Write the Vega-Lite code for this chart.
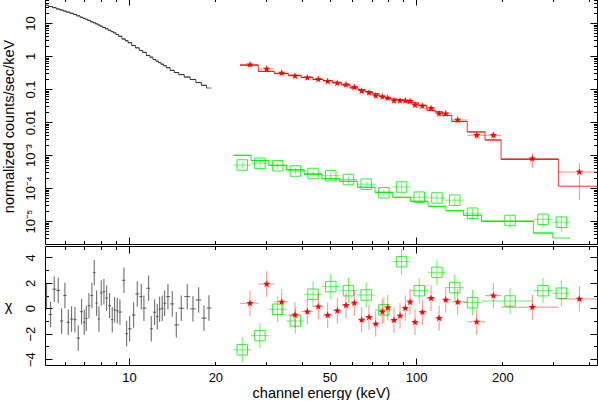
{
"$schema":"https://vega.github.io/schema/vega-lite/v6.json",
"padding":{"left":0,"top":-3,"right":1,"bottom":0},
"spacing":0,
"config":{"view":{"stroke":"#000000","strokeWidth":1},"font":"Liberation Sans",
"axis":{"grid":false,"domain":false,"tickColor":"#000000","tickWidth":1,"labelColor":"#000000","titleColor":"#000000","labelFont":"Liberation Sans","titleFont":"Liberation Sans","labelFontSize":13,"titleFontSize":14.5,"titleFontWeight":"normal","labelOverlap":false,"labelFlush":false}},
"datasets":{
"black":[
{"e":5.167,"lo":5.097,"hi":5.25,"m":34.5,"c":0.9,"cl":-0.1,"ch":1.9},
{"e":5.335,"lo":5.25,"hi":5.413,"m":31.6,"c":-0.5,"cl":-1.5,"ch":0.5},
{"e":5.492,"lo":5.413,"hi":5.581,"m":29.1,"c":1.5,"cl":0.5,"ch":2.5},
{"e":5.671,"lo":5.581,"hi":5.749,"m":26.6,"c":1.4,"cl":0.4,"ch":2.4},
{"e":5.828,"lo":5.749,"hi":5.905,"m":24.7,"c":-1.0,"cl":-2.0,"ch":0.0},
{"e":5.984,"lo":5.905,"hi":6.064,"m":22.9,"c":1.0,"cl":0.0,"ch":2.0},
{"e":6.145,"lo":6.064,"hi":6.229,"m":21.3,"c":-1.1,"cl":-2.1,"ch":-0.1},
{"e":6.314,"lo":6.229,"hi":6.399,"m":19.7,"c":-0.85,"cl":-1.85,"ch":0.15},
{"e":6.484,"lo":6.399,"hi":6.571,"m":18.2,"c":-0.9,"cl":-1.9,"ch":0.1},
{"e":6.658,"lo":6.571,"hi":6.75,"m":16.5,"c":-2.35,"cl":-3.35,"ch":-1.35},
{"e":6.842,"lo":6.75,"hi":6.914,"m":14.9,"c":-0.27,"cl":-1.27,"ch":0.73},
{"e":6.986,"lo":6.914,"hi":7.043,"m":13.8,"c":-1.1,"cl":-2.1,"ch":-0.1},
{"e":7.099,"lo":7.043,"hi":7.176,"m":13.0,"c":-0.8,"cl":-1.8,"ch":0.2},
{"e":7.255,"lo":7.176,"hi":7.342,"m":12.0,"c":0.2,"cl":-0.8,"ch":1.2},
{"e":7.431,"lo":7.342,"hi":7.501,"m":10.9,"c":1.0,"cl":0.0,"ch":2.0},
{"e":7.57,"lo":7.501,"hi":7.643,"m":10.2,"c":2.8,"cl":1.8,"ch":3.8},
{"e":7.717,"lo":7.643,"hi":7.789,"m":9.42,"c":0.4,"cl":-0.6,"ch":1.4},
{"e":7.861,"lo":7.789,"hi":7.934,"m":8.69,"c":-0.85,"cl":-1.85,"ch":0.15},
{"e":8.007,"lo":7.934,"hi":8.094,"m":8.03,"c":1.2,"cl":0.2,"ch":2.2},
{"e":8.182,"lo":8.094,"hi":8.272,"m":7.31,"c":1.3,"cl":0.3,"ch":2.3},
{"e":8.362,"lo":8.272,"hi":8.463,"m":6.65,"c":0.8,"cl":-0.2,"ch":1.8},
{"e":8.565,"lo":8.463,"hi":8.656,"m":5.99,"c":0.2,"cl":-0.8,"ch":1.2},
{"e":8.746,"lo":8.656,"hi":8.831,"m":5.47,"c":-0.9,"cl":-1.9,"ch":0.1},
{"e":8.916,"lo":8.831,"hi":9.01,"m":5.03,"c":-0.13,"cl":-1.13,"ch":0.87},
{"e":9.104,"lo":9.01,"hi":9.203,"m":4.47,"c":-0.2,"cl":-1.2,"ch":0.8},
{"e":9.303,"lo":9.203,"hi":9.454,"m":3.95,"c":-0.3,"cl":-1.3,"ch":0.7},
{"e":9.607,"lo":9.454,"hi":9.711,"m":3.28,"c":2.2,"cl":1.2,"ch":3.2},
{"e":9.817,"lo":9.711,"hi":9.936,"m":2.89,"c":-2.0,"cl":-3.0,"ch":-1.0},
{"e":10.056,"lo":9.936,"hi":10.219,"m":2.52,"c":-1.62,"cl":-2.62,"ch":-0.62},
{"e":10.384,"lo":10.219,"hi":10.535,"m":2.09,"c":-0.53,"cl":-1.53,"ch":0.47},
{"e":10.688,"lo":10.535,"hi":10.862,"m":1.77,"c":1.12,"cl":0.12,"ch":2.12},
{"e":11.037,"lo":10.862,"hi":11.157,"m":1.47,"c":0.91,"cl":-0.09,"ch":1.91},
{"e":11.278,"lo":11.157,"hi":11.493,"m":1.29,"c":0,"cl":-1,"ch":1},
{"e":11.713,"lo":11.493,"hi":11.836,"m":1.04,"c":1.57,"cl":0.57,"ch":2.57},
{"e":11.959,"lo":11.836,"hi":12.124,"m":0.918,"c":-1.62,"cl":-2.62,"ch":-0.62},
{"e":12.29,"lo":12.124,"hi":12.419,"m":0.783,"c":-0.31,"cl":-1.31,"ch":0.69},
{"e":12.548,"lo":12.419,"hi":12.67,"m":0.7,"c":-0.66,"cl":-1.66,"ch":0.34},
{"e":12.793,"lo":12.67,"hi":12.927,"m":0.631,"c":-0.08,"cl":-1.08,"ch":0.92},
{"e":13.063,"lo":12.927,"hi":13.189,"m":0.565,"c":0.0,"cl":-1,"ch":1},
{"e":13.317,"lo":13.189,"hi":13.494,"m":0.509,"c":0.39,"cl":-0.61,"ch":1.39},
{"e":13.673,"lo":13.494,"hi":13.912,"m":0.442,"c":0.91,"cl":-0.09,"ch":1.91},
{"e":14.154,"lo":13.912,"hi":14.382,"m":0.367,"c":0.34,"cl":-0.66,"ch":1.34},
{"e":14.616,"lo":14.382,"hi":14.911,"m":0.315,"c":-1.31,"cl":-2.31,"ch":-0.31},
{"e":15.213,"lo":14.911,"hi":15.584,"m":0.273,"c":0,"cl":-1,"ch":1},
{"e":15.964,"lo":15.584,"hi":16.333,"m":0.23,"c":0.91,"cl":-0.09,"ch":1.91},
{"e":16.711,"lo":16.333,"hi":17.097,"m":0.194,"c":-0.05,"cl":-1.05,"ch":0.95},
{"e":17.493,"lo":17.097,"hi":17.869,"m":0.157,"c":0.65,"cl":-0.35,"ch":1.65},
{"e":18.252,"lo":17.869,"hi":18.623,"m":0.129,"c":-0.78,"cl":-1.78,"ch":0.22},
{"e":19.0,"lo":18.623,"hi":19.386,"m":0.107,"c":0.02,"cl":-0.98,"ch":1.02}
],
"red":[
{"e":26.4,"lo":24.37,"hi":28.22,"f":0.545,"flo":0.5014,"fhi":0.5886,"m":0.528,"c":0.39,"cl":-0.61,"ch":1.39},
{"e":30.19,"lo":28.22,"hi":32.06,"f":0.4037,"flo":0.3714,"fhi":0.436,"m":0.3423,"c":1.9,"cl":0.9,"ch":2.9},
{"e":34.05,"lo":32.06,"hi":35.9,"f":0.3054,"flo":0.281,"fhi":0.3298,"m":0.2932,"c":0.5,"cl":-0.5,"ch":1.5},
{"e":37.88,"lo":35.9,"hi":39.78,"f":0.2477,"flo":0.2254,"fhi":0.27,"m":0.2595,"c":-0.53,"cl":-1.53,"ch":0.47},
{"e":41.81,"lo":39.78,"hi":43.69,"f":0.22,"flo":0.2002,"fhi":0.2398,"m":0.2253,"c":-0.27,"cl":-1.27,"ch":0.73},
{"e":45.66,"lo":43.69,"hi":47.42,"f":0.1967,"flo":0.179,"fhi":0.2144,"m":0.1944,"c":0.13,"cl":-0.87,"ch":1.13},
{"e":49.24,"lo":47.42,"hi":51.18,"f":0.1711,"flo":0.154,"fhi":0.1882,"m":0.1805,"c":-0.55,"cl":-1.55,"ch":0.45},
{"e":53.18,"lo":51.18,"hi":55.05,"f":0.1519,"flo":0.1367,"fhi":0.1671,"m":0.1549,"c":-0.2,"cl":-1.2,"ch":0.8},
{"e":57.03,"lo":55.05,"hi":58.94,"f":0.135,"flo":0.1215,"fhi":0.1485,"m":0.1319,"c":0.23,"cl":-0.77,"ch":1.23},
{"e":60.96,"lo":58.94,"hi":62.79,"f":0.1126,"flo":0.1002,"fhi":0.125,"m":0.1075,"c":0.41,"cl":-0.59,"ch":1.41},
{"e":64.68,"lo":62.79,"hi":66.58,"f":0.087,"flo":0.0774,"fhi":0.0966,"m":0.0958,"c":-0.92,"cl":-1.92,"ch":0.08},
{"e":68.59,"lo":66.58,"hi":70.43,"f":0.0772,"flo":0.0679,"fhi":0.0865,"m":0.0838,"c":-0.71,"cl":-1.71,"ch":0.29},
{"e":72.38,"lo":70.43,"hi":74.32,"f":0.0627,"flo":0.0552,"fhi":0.0702,"m":0.072,"c":-1.23,"cl":-2.23,"ch":-0.23},
{"e":76.31,"lo":74.32,"hi":77.98,"f":0.0584,"flo":0.0514,"fhi":0.0654,"m":0.0603,"c":-0.27,"cl":-1.27,"ch":0.73},
{"e":79.69,"lo":77.98,"hi":81.7,"f":0.0534,"flo":0.0465,"fhi":0.0603,"m":0.0531,"c":0.05,"cl":-0.95,"ch":1.05},
{"e":83.82,"lo":81.7,"hi":85.86,"f":0.0442,"flo":0.0385,"fhi":0.0499,"m":0.0496,"c":-0.94,"cl":-1.94,"ch":0.06},
{"e":87.95,"lo":85.86,"hi":89.81,"f":0.0442,"flo":0.0385,"fhi":0.0499,"m":0.0476,"c":-0.6,"cl":-1.6,"ch":0.4},
{"e":91.77,"lo":89.81,"hi":93.48,"f":0.0442,"flo":0.038,"fhi":0.0504,"m":0.0442,"c":0,"cl":-1,"ch":1},
{"e":95.3,"lo":93.48,"hi":97.23,"f":0.0424,"flo":0.0365,"fhi":0.0483,"m":0.0395,"c":0.49,"cl":-0.51,"ch":1.49},
{"e":99.2,"lo":97.23,"hi":102.1,"f":0.0327,"flo":0.0278,"fhi":0.0376,"m":0.0381,"c":-1.1,"cl":-2.1,"ch":-0.1},
{"e":105.2,"lo":102.1,"hi":108.9,"f":0.0305,"flo":0.0259,"fhi":0.0351,"m":0.0319,"c":-0.31,"cl":-1.31,"ch":0.69},
{"e":112.8,"lo":108.9,"hi":116.5,"f":0.026,"flo":0.0218,"fhi":0.0302,"m":0.02276,"c":0.78,"cl":-0.22,"ch":1.78},
{"e":120.3,"lo":116.5,"hi":123.5,"f":0.01785,"flo":0.01464,"fhi":0.02106,"m":0.02036,"c":-0.78,"cl":-1.78,"ch":0.22},
{"e":126.9,"lo":123.5,"hi":133.2,"f":0.01785,"flo":0.01464,"fhi":0.02106,"m":0.01576,"c":0.65,"cl":-0.35,"ch":1.65},
{"e":139.7,"lo":133.2,"hi":150.8,"f":0.0115,"flo":0.0092,"fhi":0.0138,"m":0.01037,"c":0.49,"cl":-0.51,"ch":1.49},
{"e":162.7,"lo":150.8,"hi":173.9,"f":0.00395,"flo":0.00296,"fhi":0.00494,"m":0.00501,"c":-1.07,"cl":-2.07,"ch":-0.07},
{"e":185.9,"lo":173.9,"hi":197.8,"f":0.00395,"flo":0.00284,"fhi":0.00506,"m":0.002855,"c":0.99,"cl":-0.01,"ch":1.99},
{"e":254.2,"lo":197.8,"hi":313.2,"f":0.000772,"flo":0.000401,"fhi":0.001143,"m":0.000742,"c":0.08,"cl":-0.92,"ch":1.08},
{"e":370.7,"lo":313.2,"hi":427.2,"f":0.000305,"flo":0.0000427,"fhi":0.000567,"m":0.0001135,"c":0.73,"cl":-0.27,"ch":1.73}
],
"green":[
{"e":24.81,"lo":23.11,"hi":26.63,"f":4.98e-4,"flo":3.88e-4,"fhi":6.08e-4,"m":9.79e-4,"c":-3.27,"cl":-4.27,"ch":-2.27},
{"e":28.59,"lo":26.63,"hi":30.7,"f":5.64e-4,"flo":4.40e-4,"fhi":6.88e-4,"m":6.81e-4,"c":-2.15,"cl":-3.15,"ch":-1.15},
{"e":32.96,"lo":30.7,"hi":35.38,"f":4.74e-4,"flo":3.70e-4,"fhi":5.78e-4,"m":4.875e-4,"c":-0.08,"cl":-1.08,"ch":0.92},
{"e":37.99,"lo":35.38,"hi":40.78,"f":3.274e-4,"flo":2.554e-4,"fhi":3.994e-4,"m":3.559e-4,"c":-1.0,"cl":-2.0,"ch":0},
{"e":43.78,"lo":40.78,"hi":47.0,"f":2.751e-4,"flo":2.146e-4,"fhi":3.356e-4,"m":2.6e-4,"c":1.1,"cl":0.1,"ch":2.1},
{"e":50.46,"lo":47.0,"hi":54.18,"f":2.359e-4,"flo":1.84e-4,"fhi":2.878e-4,"m":1.913e-4,"c":1.7,"cl":0.7,"ch":2.7},
{"e":58.16,"lo":54.18,"hi":62.44,"f":1.81e-4,"flo":1.412e-4,"fhi":2.208e-4,"m":1.596e-4,"c":1.38,"cl":0.38,"ch":2.38},
{"e":67.04,"lo":62.44,"hi":71.97,"f":1.303e-4,"flo":1.016e-4,"fhi":1.59e-4,"m":1.05e-4,"c":1.04,"cl":0.04,"ch":2.04},
{"e":77.27,"lo":71.97,"hi":82.95,"f":7.15e-5,"flo":5.58e-5,"fhi":8.72e-5,"m":7.41e-5,"c":-0.13,"cl":-1.13,"ch":0.87},
{"e":89.05,"lo":82.95,"hi":95.61,"f":1.072e-4,"flo":7.72e-5,"fhi":1.372e-4,"m":5.23e-5,"c":3.66,"cl":2.66,"ch":4.66},
{"e":102.64,"lo":95.61,"hi":110.2,"f":5.26e-5,"flo":3.79e-5,"fhi":6.73e-5,"m":3.954e-5,"c":1.38,"cl":0.38,"ch":2.38},
{"e":118.3,"lo":110.2,"hi":127.0,"f":4.98e-5,"flo":3.59e-5,"fhi":6.37e-5,"m":2.79e-5,"c":2.82,"cl":1.82,"ch":3.82},
{"e":136.4,"lo":127.0,"hi":146.4,"f":4.27e-5,"flo":3.07e-5,"fhi":5.47e-5,"m":2.051e-5,"c":1.62,"cl":0.62,"ch":2.62},
{"e":157.4,"lo":146.4,"hi":169.1,"f":1.723e-5,"flo":1.12e-5,"fhi":2.326e-5,"m":1.488e-5,"c":0.44,"cl":-0.56,"ch":1.44},
{"e":212.6,"lo":169.1,"hi":256.3,"f":1.036e-5,"flo":6.22e-6,"fhi":1.45e-5,"m":9.66e-6,"c":0.57,"cl":-0.43,"ch":1.57},
{"e":277.0,"lo":256.3,"hi":299.4,"f":1.126e-5,"flo":6.19e-6,"fhi":1.633e-5,"m":4.33e-6,"c":1.38,"cl":0.38,"ch":2.38},
{"e":320.9,"lo":299.4,"hi":344.0,"f":9.19e-6,"flo":4.6e-6,"fhi":1.379e-5,"m":3.054e-6,"c":1.18,"cl":0.18,"ch":2.18}
]
},
"vconcat":[
{
"width":552,"height":246,
"resolve":{"axis":{"x":"independent","y":"independent"}},
"layer":[
{"data":{"name":"black"},"mark":{"type":"rule","color":"#666666","strokeWidth":1,"clip":true},
"encoding":{
"x":{"field":"lo","type":"quantitative","scale":{"type":"log","domain":[5.1,427],"nice":false},
"axis":{"orient":"bottom","values":[10,100],"tickSize":-7,"labels":false,"title":null}},
"x2":{"field":"hi"},
"y":{"field":"m","type":"quantitative","scale":{"type":"log","domain":[2.01e-6,57.2],"nice":false},
"axis":{"orient":"left","values":[1e-5,1e-4,0.001,0.01,0.1,1,10],"tickSize":-7,"labelPadding":17.5,"labelAngle":-90,"labelAlign":"center","labelBaseline":"alphabetic",
"labelExpr":"datum.value > 5 ? '10' : datum.value > 0.5 ? '1' : datum.value > 0.05 ? '0.1' : datum.value > 0.005 ? '0.01' : datum.value > 0.0005 ? '10⁻³' : datum.value > 0.00005 ? '10⁻⁴' : '10⁻⁵'",
"title":"normalized counts/sec/keV","titleX":-31.5,"titleY":128,"titleAngle":270,"titleAlign":"center","titleBaseline":"alphabetic"}}}},
{"data":{"name":"black"},"mark":{"type":"line","interpolate":"step-after","color":"#222222","strokeWidth":0.8,"clip":true},
"encoding":{
"x":{"field":"lo","type":"quantitative","scale":{"type":"log","domain":[5.1,427],"nice":false},
"axis":{"orient":"bottom","values":[6,7,8,9,20,30,40,50,60,70,80,90,200,300,400],"tickSize":-3.5,"labels":false,"title":null}},
"y":{"field":"m","type":"quantitative","scale":{"type":"log","domain":[2.01e-6,57.2],"nice":false},
"axis":{"orient":"left","values":[3e-6,4e-6,5e-6,6e-6,7e-6,8e-6,9e-6,2e-5,3e-5,4e-5,5e-5,6e-5,7e-5,8e-5,9e-5,2e-4,3e-4,4e-4,5e-4,6e-4,7e-4,8e-4,9e-4,0.002,0.003,0.004,0.005,0.006,0.007,0.008,0.009,0.02,0.03,0.04,0.05,0.06,0.07,0.08,0.09,0.2,0.3,0.4,0.5,0.6,0.7,0.8,0.9,2,3,4,5,6,7,8,9,20,30,40,50],"tickSize":-3.5,"labels":false,"title":null}}}},
{"data":{"name":"green"},"mark":{"type":"line","interpolate":"step-after","color":"#00ee00","opacity":0.85,"strokeWidth":1,"clip":true},
"encoding":{
"x":{"field":"lo","type":"quantitative","scale":{"type":"log","domain":[5.1,427],"nice":false},
"axis":{"orient":"top","values":[6,7,8,9,20,30,40,50,60,70,80,90,200,300,400],"tickSize":-3.5,"labels":false,"title":null}},
"y":{"field":"m","type":"quantitative","scale":{"type":"log","domain":[2.01e-6,57.2],"nice":false},
"axis":{"orient":"right","values":[3e-6,4e-6,5e-6,6e-6,7e-6,8e-6,9e-6,2e-5,3e-5,4e-5,5e-5,6e-5,7e-5,8e-5,9e-5,2e-4,3e-4,4e-4,5e-4,6e-4,7e-4,8e-4,9e-4,0.002,0.003,0.004,0.005,0.006,0.007,0.008,0.009,0.02,0.03,0.04,0.05,0.06,0.07,0.08,0.09,0.2,0.3,0.4,0.5,0.6,0.7,0.8,0.9,2,3,4,5,6,7,8,9,20,30,40,50],"tickSize":-3.5,"labels":false,"title":null}}}},
{"data":{"name":"green"},"mark":{"type":"rule","color":"#00ee00","opacity":0.85,"strokeWidth":1,"clip":true},
"encoding":{
"x":{"field":"lo","type":"quantitative","scale":{"type":"log","domain":[5.1,427],"nice":false},
"axis":{"orient":"top","values":[10,100],"tickSize":-7,"labels":false,"title":null}},
"x2":{"field":"hi"},
"y":{"field":"m","type":"quantitative","scale":{"type":"log","domain":[2.01e-6,57.2],"nice":false},
"axis":{"orient":"right","values":[1e-5,1e-4,0.001,0.01,0.1,1,10],"tickSize":-7,"labels":false,"title":null}}}},
{"data":{"name":"green"},"mark":{"type":"rule","color":"#00ee00","opacity":0.55,"strokeWidth":1,"clip":true},
"encoding":{"x":{"field":"lo","type":"quantitative","scale":{"type":"log","domain":[5.1,427],"nice":false},"axis":null},"x2":{"field":"hi"},
"y":{"field":"f","type":"quantitative","scale":{"type":"log","domain":[2.01e-6,57.2],"nice":false},"axis":null}}},
{"data":{"name":"green"},"mark":{"type":"rule","color":"#00ee00","opacity":0.55,"strokeWidth":1,"clip":true},
"encoding":{"x":{"field":"e","type":"quantitative","scale":{"type":"log","domain":[5.1,427],"nice":false},"axis":null},
"y":{"field":"flo","type":"quantitative","scale":{"type":"log","domain":[2.01e-6,57.2],"nice":false},"axis":null},"y2":{"field":"fhi"}}},
{"data":{"name":"green"},"mark":{"type":"point","shape":"square","filled":false,"color":"#00ee00","opacity":0.8,"size":110,"strokeWidth":1},
"encoding":{"x":{"field":"e","type":"quantitative","scale":{"type":"log","domain":[5.1,427],"nice":false},"axis":null},
"y":{"field":"f","type":"quantitative","scale":{"type":"log","domain":[2.01e-6,57.2],"nice":false},"axis":null}}},
{"data":{"name":"red"},"mark":{"type":"line","interpolate":"step-after","color":"#ff0000","opacity":0.8,"strokeWidth":1,"clip":true},
"encoding":{"x":{"field":"lo","type":"quantitative","scale":{"type":"log","domain":[5.1,427],"nice":false},"axis":null},
"y":{"field":"m","type":"quantitative","scale":{"type":"log","domain":[2.01e-6,57.2],"nice":false},"axis":null}}},
{"data":{"name":"red"},"mark":{"type":"rule","color":"#ff0000","opacity":0.8,"strokeWidth":1,"clip":true},
"encoding":{"x":{"field":"lo","type":"quantitative","scale":{"type":"log","domain":[5.1,427],"nice":false},"axis":null},"x2":{"field":"hi"},
"y":{"field":"m","type":"quantitative","scale":{"type":"log","domain":[2.01e-6,57.2],"nice":false},"axis":null}}},
{"data":{"name":"red"},"mark":{"type":"rule","color":"#ff0000","opacity":0.45,"strokeWidth":1,"clip":true},
"encoding":{"x":{"field":"lo","type":"quantitative","scale":{"type":"log","domain":[5.1,427],"nice":false},"axis":null},"x2":{"field":"hi"},
"y":{"field":"f","type":"quantitative","scale":{"type":"log","domain":[2.01e-6,57.2],"nice":false},"axis":null}}},
{"data":{"name":"red"},"mark":{"type":"rule","color":"#ff0000","opacity":0.45,"strokeWidth":1,"clip":true},
"encoding":{"x":{"field":"e","type":"quantitative","scale":{"type":"log","domain":[5.1,427],"nice":false},"axis":null},
"y":{"field":"flo","type":"quantitative","scale":{"type":"log","domain":[2.01e-6,57.2],"nice":false},"axis":null},"y2":{"field":"fhi"}}},
{"data":{"name":"red"},"mark":{"type":"point","shape":"M0,-1L0.2245,-0.309L0.951,-0.309L0.363,0.118L0.588,0.809L0,0.382L-0.588,0.809L-0.363,0.118L-0.951,-0.309L-0.2245,-0.309Z","filled":true,"color":"#ff0000","opacity":1,"size":60,"strokeWidth":0},
"encoding":{"x":{"field":"e","type":"quantitative","scale":{"type":"log","domain":[5.1,427],"nice":false},"axis":null},
"y":{"field":"f","type":"quantitative","scale":{"type":"log","domain":[2.01e-6,57.2],"nice":false},"axis":null}}}
]
},
{
"width":552,"height":119,
"resolve":{"axis":{"x":"independent","y":"independent"}},
"layer":[
{"mark":{"type":"rule","color":"#333333","strokeWidth":1,"strokeDash":[6,4]},
"encoding":{"y":{"datum":0,"type":"quantitative","scale":{"domain":[-4.46,4.89],"nice":false,"zero":false},"axis":null}}},
{"data":{"name":"black"},"mark":{"type":"rule","color":"#444444","opacity":0.85,"strokeWidth":1,"clip":true},
"encoding":{
"x":{"field":"lo","type":"quantitative","scale":{"type":"log","domain":[5.1,427],"nice":false},
"axis":{"orient":"bottom","values":[6,7,8,9,20,30,40,50,60,70,80,90,200,300,400],"tickSize":-3.5,"labelPadding":20,"labelAlign":"center","labelBaseline":"alphabetic","labelExpr":"indexof([20,50,200], datum.value) >= 0 ? '' + datum.value : ''","title":null}},
"x2":{"field":"hi"},
"y":{"field":"c","type":"quantitative","scale":{"domain":[-4.46,4.89],"nice":false,"zero":false},
"axis":{"orient":"left","values":[-3,-1,1,3],"tickSize":-3.5,"labels":false,"title":null}}}},
{"data":{"name":"black"},"mark":{"type":"rule","color":"#444444","opacity":0.85,"strokeWidth":1,"clip":true},
"encoding":{
"x":{"field":"e","type":"quantitative","scale":{"type":"log","domain":[5.1,427],"nice":false},
"axis":{"orient":"bottom","values":[10,100],"tickSize":-7,"labelPadding":23.5,"labelAlign":"center","labelBaseline":"alphabetic","labelExpr":"'' + datum.value","title":"channel energy (keV)","titleY":32,"titleAlign":"center","titleBaseline":"alphabetic"}},
"y":{"field":"cl","type":"quantitative","scale":{"domain":[-4.46,4.89],"nice":false,"zero":false},
"axis":{"orient":"left","values":[-4,-2,0,2,4],"tickSize":-7,"labelPadding":17.5,"labelAngle":-90,"labelAlign":"center","labelBaseline":"alphabetic","title":"χ","titleX":-37,"titleY":60,"titleAngle":0,"titleAlign":"center","titleBaseline":"middle"}},
"y2":{"field":"ch"}}},
{"data":{"name":"green"},"mark":{"type":"rule","color":"#00ee00","opacity":0.6,"strokeWidth":1,"clip":true},
"encoding":{
"x":{"field":"lo","type":"quantitative","scale":{"type":"log","domain":[5.1,427],"nice":false},
"axis":{"orient":"top","values":[6,7,8,9,20,30,40,50,60,70,80,90,200,300,400],"tickSize":-3.5,"labels":false,"title":null}},
"x2":{"field":"hi"},
"y":{"field":"c","type":"quantitative","scale":{"domain":[-4.46,4.89],"nice":false,"zero":false},
"axis":{"orient":"right","values":[-3,-1,1,3],"tickSize":-3.5,"labels":false,"title":null}}}},
{"data":{"name":"green"},"mark":{"type":"rule","color":"#00ee00","opacity":0.6,"strokeWidth":1,"clip":true},
"encoding":{
"x":{"field":"e","type":"quantitative","scale":{"type":"log","domain":[5.1,427],"nice":false},
"axis":{"orient":"top","values":[10,100],"tickSize":-7,"labels":false,"title":null}},
"y":{"field":"cl","type":"quantitative","scale":{"domain":[-4.46,4.89],"nice":false,"zero":false},
"axis":{"orient":"right","values":[-4,-2,0,2,4],"tickSize":-7,"labels":false,"title":null}},
"y2":{"field":"ch"}}},
{"data":{"name":"green"},"mark":{"type":"point","shape":"square","filled":false,"color":"#00ee00","opacity":0.8,"size":110,"strokeWidth":1},
"encoding":{"x":{"field":"e","type":"quantitative","scale":{"type":"log","domain":[5.1,427],"nice":false},"axis":null},
"y":{"field":"c","type":"quantitative","scale":{"domain":[-4.46,4.89],"nice":false,"zero":false},"axis":null}}},
{"data":{"name":"red"},"mark":{"type":"rule","color":"#ff0000","opacity":0.45,"strokeWidth":1,"clip":true},
"encoding":{"x":{"field":"lo","type":"quantitative","scale":{"type":"log","domain":[5.1,427],"nice":false},"axis":null},"x2":{"field":"hi"},
"y":{"field":"c","type":"quantitative","scale":{"domain":[-4.46,4.89],"nice":false,"zero":false},"axis":null}}},
{"data":{"name":"red"},"mark":{"type":"rule","color":"#ff0000","opacity":0.45,"strokeWidth":1,"clip":true},
"encoding":{"x":{"field":"e","type":"quantitative","scale":{"type":"log","domain":[5.1,427],"nice":false},"axis":null},
"y":{"field":"cl","type":"quantitative","scale":{"domain":[-4.46,4.89],"nice":false,"zero":false},"axis":null},"y2":{"field":"ch"}}},
{"data":{"name":"red"},"mark":{"type":"point","shape":"M0,-1L0.2245,-0.309L0.951,-0.309L0.363,0.118L0.588,0.809L0,0.382L-0.588,0.809L-0.363,0.118L-0.951,-0.309L-0.2245,-0.309Z","filled":true,"color":"#ff0000","opacity":1,"size":60,"strokeWidth":0},
"encoding":{"x":{"field":"e","type":"quantitative","scale":{"type":"log","domain":[5.1,427],"nice":false},"axis":null},
"y":{"field":"c","type":"quantitative","scale":{"domain":[-4.46,4.89],"nice":false,"zero":false},"axis":null}}}
]
}
]
}
